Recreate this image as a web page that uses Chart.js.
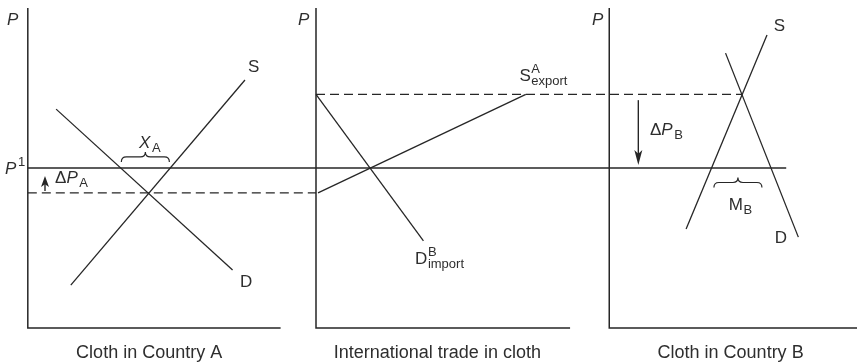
<!DOCTYPE html>
<html>
<head>
<meta charset="utf-8">
<script src="https://cdn.jsdelivr.net/npm/chart.js@4.4.1/dist/chart.umd.min.js"></script>
<style>
  html, body { margin: 0; padding: 0; background: #fff; }
</style>
</head>
<body>
<canvas id="chart" width="857" height="362"></canvas>
<script>
// where each panel's origin sits on the shared quantity axis
const ORIGIN_A = 0;
const ORIGIN_T = 11.4;
const ORIGIN_B = 23.0;

// prices
const P_WORLD = 5.0;
const P_AUT_A = 4.22;
const P_AUT_B = 7.3;

// curves, [quantity, price] in each panel's own units
const supplyA = [[1.7, 1.34], [8.59, 7.75]];
const demandA = [[1.12, 6.84], [8.1, 1.81]];
const exportSupply = [[0.08, P_AUT_A], [8.3, P_AUT_B]];
const importDemand = [[0, P_AUT_B], [4.25, 2.72]];
const supplyB = [[3.04, 3.09], [6.24, 9.16]];
const demandB = [[4.6, 8.59], [7.48, 2.84]];

// axes of the three panels
const axisA = [[0, 10], [0, 0], [10, 0]];
const axisT = [[0, 10], [0, 0], [10.05, 0]];
const axisB = [[0, 10], [0, 0], [9.85, 0]];

// horizontal price lines, [from origin, q], [to origin, q]
const worldLine = [[ORIGIN_A, 0], [ORIGIN_B, 7.0]];
const autarkyA = [[ORIGIN_A, 0], [ORIGIN_T, 0]];
const autarkyB = [[ORIGIN_T, 0], [ORIGIN_B, 5.25]];

// brace spans [q1, q2, price at the ends]
const braceXA = [3.7, 5.6, 5.19];
const braceMB = [4.14, 6.04, 4.39];

// price-change arrows [q, from price, to price]
const arrowA = [0.68, 4.28, 4.75];
const arrowB = [1.15, 7.12, 5.09];

const captions = ['Cloth in Country A', 'International trade in cloth', 'Cloth in Country B'];

const INK = '#262626';
const TEXT = '#2e2e2e';
const FONT = '"Liberation Sans", Arial, sans-serif';

function toPts(arr, origin) {
  return arr.map(([q, p]) => ({ x: origin + q, y: p }));
}
function hLine(seg, p) {
  return seg.map(([o, q]) => ({ x: o + q, y: p }));
}

function line(data, opts) {
  return Object.assign({
    data: data,
    showLine: true,
    borderColor: INK,
    borderWidth: 1.3,
    pointRadius: 0,
    fill: false,
    clip: false,
  }, opts || {});
}

// labels: base pieces, then optional stacked superscript / subscript
const labels = [
  { o: ORIGIN_A, q: -0.82, p: 9.47, base: [['P', 'italic']] },
  { o: ORIGIN_A, q: 8.71, p: 8.0, base: [['S', 'normal']] },
  { o: ORIGIN_A, q: 8.39, p: 1.28, base: [['D', 'normal']] },
  { o: ORIGIN_A, q: 4.4, p: 5.63, base: [['X', 'italic']], sub: 'A' },
  { o: ORIGIN_A, q: -0.9, p: 4.81, base: [['P', 'italic']], sup: '1' },
  { o: ORIGIN_A, q: 1.08, p: 4.53, base: [['\u0394', 'normal'], ['P', 'italic']], sub: 'A' },
  { o: ORIGIN_T, q: -0.71, p: 9.47, base: [['P', 'italic']] },
  { o: ORIGIN_T, q: 8.05, p: 7.72, base: [['S', 'normal']], sup: 'A', sub: 'export' },
  { o: ORIGIN_T, q: 3.92, p: 2.0, base: [['D', 'normal']], sup: 'B', sub: 'import' },
  { o: ORIGIN_B, q: -0.68, p: 9.47, base: [['P', 'italic']] },
  { o: ORIGIN_B, q: 6.51, p: 9.28, base: [['S', 'normal']] },
  { o: ORIGIN_B, q: 6.55, p: 2.66, base: [['D', 'normal']] },
  { o: ORIGIN_B, q: 1.61, p: 6.03, base: [['\u0394', 'normal'], ['P', 'italic']], sub: 'B' },
  { o: ORIGIN_B, q: 4.73, p: 3.69, base: [['M', 'normal']], sub: 'B' },
];

const decorPlugin = {
  id: 'decor',
  afterDatasetsDraw(chart) {
    const ctx = chart.ctx;
    const xs = chart.scales.x, ys = chart.scales.y;
    const X = v => xs.getPixelForValue(v);
    const Y = v => ys.getPixelForValue(v);
    ctx.save();
    ctx.fillStyle = INK;
    ctx.strokeStyle = INK;
    ctx.textBaseline = 'alphabetic';

    // braces
    [[ORIGIN_A, braceXA], [ORIGIN_B, braceMB]].forEach(([o, b]) => {
      const x1 = X(o + b[0]), x2 = X(o + b[1]), yb = Y(b[2]);
      const xm = (x1 + x2) / 2, h = 10, r = 5, ym = yb - h / 2;
      ctx.beginPath();
      ctx.moveTo(x1, yb);
      ctx.quadraticCurveTo(x1, ym, x1 + r, ym);
      ctx.lineTo(xm - r, ym);
      ctx.quadraticCurveTo(xm, ym, xm, yb - h);
      ctx.quadraticCurveTo(xm, ym, xm + r, ym);
      ctx.lineTo(x2 - r, ym);
      ctx.quadraticCurveTo(x2, ym, x2, yb);
      ctx.lineWidth = 1.2;
      ctx.stroke();
    });

    // arrows
    [[ORIGIN_A, arrowA, 11], [ORIGIN_B, arrowB, 15]].forEach(([o, a, len]) => {
      const x = X(o + a[0]), y0 = Y(a[1]), y1 = Y(a[2]);
      const dir = y1 < y0 ? -1 : 1;
      const half = 4;
      ctx.beginPath();
      ctx.moveTo(x, y0);
      ctx.lineTo(x, y1 - dir * len * 0.6);
      ctx.lineWidth = 1.4;
      ctx.stroke();
      ctx.beginPath();
      ctx.moveTo(x, y1);
      ctx.lineTo(x - half, y1 - dir * len);
      ctx.lineTo(x, y1 - dir * len * 0.75);
      ctx.lineTo(x + half, y1 - dir * len);
      ctx.closePath();
      ctx.fill();
    });

    // labels
    ctx.fillStyle = TEXT;
    labels.forEach(l => {
      let x = X(l.o + l.q);
      const y = Y(l.p);
      l.base.forEach(([t, style]) => {
        ctx.font = style + ' 17px ' + FONT;
        ctx.fillText(t, x, y);
        x += ctx.measureText(t).width + (style === 'italic' ? 1 : 0);
      });
      ctx.font = '13px ' + FONT;
      if (l.sup) ctx.fillText(l.sup, x + 0.5, y - 8);
      if (l.sub) ctx.fillText(l.sub, x + 0.5, y + 4);
    });

    // panel captions
    ctx.font = '18px ' + FONT;
    ctx.textAlign = 'center';
    [ORIGIN_A, ORIGIN_T, ORIGIN_B].forEach((o, i) => {
      ctx.fillText(captions[i], X(o + 4.8), Y(-0.94));
    });
    ctx.restore();
  }
};

new Chart(document.getElementById('chart'), {
  type: 'scatter',
  data: {
    datasets: [
      line(toPts(axisA, ORIGIN_A), { borderWidth: 1.5 }),
      line(toPts(axisT, ORIGIN_T), { borderWidth: 1.5 }),
      line(toPts(axisB, ORIGIN_B), { borderWidth: 1.5 }),
      line(hLine(worldLine, P_WORLD)),
      line(hLine(autarkyA, P_AUT_A), { borderDash: [9, 5] }),
      line(hLine(autarkyB, P_AUT_B), { borderDash: [9, 5] }),
      line(toPts(supplyA, ORIGIN_A)),
      line(toPts(demandA, ORIGIN_A)),
      line(toPts(exportSupply, ORIGIN_T)),
      line(toPts(importDemand, ORIGIN_T)),
      line(toPts(supplyB, ORIGIN_B)),
      line(toPts(demandB, ORIGIN_B)),
    ]
  },
  options: {
    responsive: false,
    animation: false,
    devicePixelRatio: 1,
    layout: { padding: { top: 8, bottom: 34, left: 0, right: 0 } },
    scales: {
      x: { type: 'linear', min: -1.1, max: 32.8, display: false },
      y: { type: 'linear', min: 0, max: 10, display: false },
    },
    plugins: {
      legend: { display: false },
      tooltip: { enabled: false },
    },
  },
  plugins: [decorPlugin],
});
</script>
</body>
</html>
